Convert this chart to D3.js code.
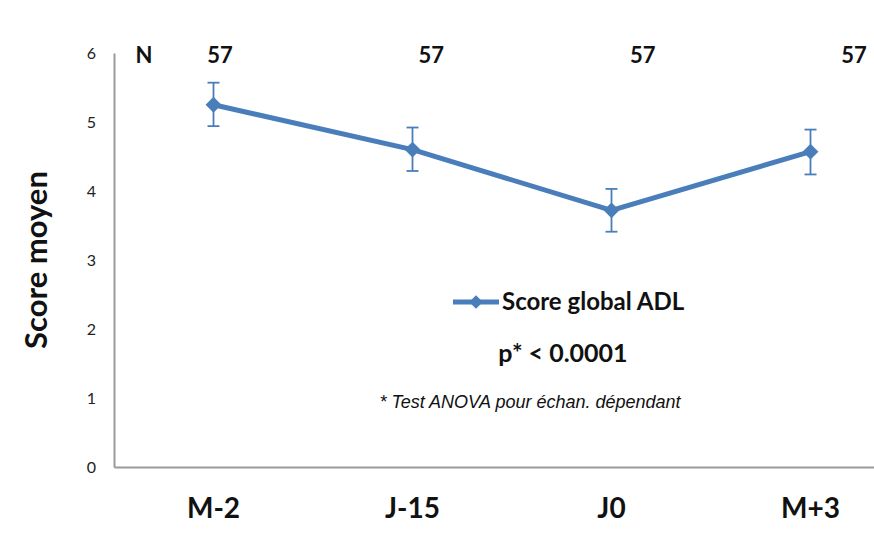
<!DOCTYPE html>
<html>
<head>
<meta charset="utf-8">
<script src="https://cdn.jsdelivr.net/npm/d3@7"></script>
<style>
  body { margin: 0; background: #fff; }
  svg text { font-family: Lato, "Open Sans", sans-serif; }
  svg text.note { font-family: "Liberation Sans", Arial, sans-serif; }
</style>
</head>
<body>
<div id="chart"></div>
<script>
'use strict';

// data
var arrayCategories = ['M-2', 'J-15', 'J0', 'M+3'];
var arrayMeans = [5.25, 4.60, 3.72, 4.57];
var arrayErrHigh = [5.57, 4.92, 4.03, 4.89];
var arrayErrLow = [4.94, 4.29, 3.41, 4.24];
var arrayN = [57, 57, 57, 57];
var arrayYTicks = [0, 1, 2, 3, 4, 5, 6];

var strBlue = '#4A7EBB';
var nWidth = 874, nHeight = 536;

var svg = d3.select('#chart').append('svg')
	.attr('width', nWidth)
	.attr('height', nHeight);

var x = d3.scaleBand()
	.domain(arrayCategories)
	.range([114, 910])
	.paddingInner(0)
	.paddingOuter(0);

var y = d3.scaleLinear()
	.domain([0, 6])
	.range([467, 53]);

// row of N labels above the plot
var xN = d3.scalePoint()
	.domain(arrayCategories)
	.range([220, 854]);

// y axis
var yAxis = svg.append('g')
	.attr('transform', 'translate(114,0)')
	.call(d3.axisLeft(y).tickValues(arrayYTicks).tickSize(0).tickPadding(18).tickFormat(d3.format('d')));
yAxis.select('.domain').attr('stroke', '#9a9a9a').attr('stroke-width', 2);
yAxis.selectAll('text')
	.attr('font-size', 16)
	.attr('fill', '#222');

// x axis
var xAxis = svg.append('g')
	.attr('transform', 'translate(0,467)')
	.call(d3.axisBottom(x).tickSize(0).tickPadding(31));
xAxis.select('.domain').attr('stroke', '#9a9a9a').attr('stroke-width', 2);
xAxis.selectAll('text')
	.attr('font-size', 28)
	.attr('font-weight', 'bold')
	.attr('fill', '#111');

// y axis title
svg.append('text')
	.attr('transform', 'translate(47,' + y(3) + ') rotate(-90)')
	.attr('text-anchor', 'middle')
	.attr('font-size', 31)
	.attr('font-weight', 'bold')
	.attr('fill', '#111')
	.text('Score moyen');

// N row
svg.append('text')
	.attr('x', 144)
	.attr('y', 63)
	.attr('text-anchor', 'middle')
	.attr('font-size', 22)
	.attr('font-weight', 'bold')
	.attr('fill', '#111')
	.text('N');

svg.selectAll('.nlab')
	.data(arrayCategories)
	.enter().append('text')
	.attr('class', 'nlab')
	.attr('x', function(d) { return xN(d); })
	.attr('y', 63)
	.attr('text-anchor', 'middle')
	.attr('font-size', 22)
	.attr('font-weight', 'bold')
	.attr('fill', '#111')
	.text(function(d, i) { return arrayN[i]; });

function cx(d) { return x(d) + x.bandwidth() / 2; }

// error bars
var gErr = svg.append('g').attr('stroke', strBlue).attr('stroke-width', 1.8);
arrayCategories.forEach(function(strCat, i)
{
	gErr.append('line')
		.attr('x1', cx(strCat)).attr('x2', cx(strCat))
		.attr('y1', y(arrayErrHigh[i])).attr('y2', y(arrayErrLow[i]));
	gErr.append('line')
		.attr('x1', cx(strCat) - 6).attr('x2', cx(strCat) + 6)
		.attr('y1', y(arrayErrHigh[i])).attr('y2', y(arrayErrHigh[i]));
	gErr.append('line')
		.attr('x1', cx(strCat) - 6).attr('x2', cx(strCat) + 6)
		.attr('y1', y(arrayErrLow[i])).attr('y2', y(arrayErrLow[i]));
});

// series line
var line = d3.line()
	.x(function(d) { return cx(d); })
	.y(function(d, i) { return y(arrayMeans[i]); });

svg.append('path')
	.datum(arrayCategories)
	.attr('d', line)
	.attr('fill', 'none')
	.attr('stroke', strBlue)
	.attr('stroke-width', 5)
	.attr('stroke-linejoin', 'round');

var diamond = d3.symbol().type(d3.symbolDiamond2).size(160);
svg.selectAll('.pt')
	.data(arrayCategories)
	.enter().append('path')
	.attr('class', 'pt')
	.attr('transform', function(d, i) { return 'translate(' + cx(d) + ',' + y(arrayMeans[i]) + ')'; })
	.attr('d', diamond)
	.attr('fill', strBlue);

// legend
var gLeg = svg.append('g').attr('transform', 'translate(453,302)');
gLeg.append('line')
	.attr('x1', 0).attr('x2', 46)
	.attr('stroke', strBlue).attr('stroke-width', 5);
gLeg.append('path')
	.attr('transform', 'translate(23,0)')
	.attr('d', d3.symbol().type(d3.symbolDiamond2).size(120))
	.attr('fill', strBlue);
gLeg.append('text')
	.attr('x', 49)
	.attr('y', 8)
	.attr('font-size', 24)
	.attr('font-weight', 'bold')
	.attr('fill', '#111')
	.text('Score global ADL');

svg.append('text')
	.attr('x', 563)
	.attr('y', 362)
	.attr('text-anchor', 'middle')
	.attr('font-size', 25)
	.attr('font-weight', 'bold')
	.attr('fill', '#111')
	.text('p* < 0.0001');

svg.append('text')
	.attr('class', 'note')
	.attr('x', 530)
	.attr('y', 408)
	.attr('text-anchor', 'middle')
	.attr('font-size', 18)
	.attr('font-style', 'italic')
	.attr('fill', '#111')
	.text('* Test ANOVA pour échan. dépendant');
</script>
</body>
</html>
